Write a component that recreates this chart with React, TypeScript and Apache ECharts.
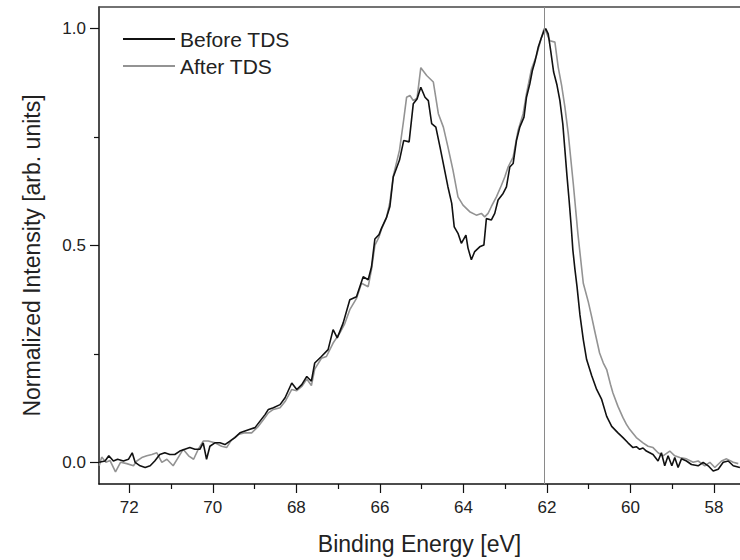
import React, { useEffect, useRef } from "react";
import * as echarts from "echarts";

// Binding energy [eV], normalized intensity [arb. units]
const beforeTDS: [number, number][] = [
  [72.72, 0.0], [72.58, 0.003], [72.49, 0.015], [72.38, 0.003], [72.28, 0.007], [72.14, 0.003],
  [72.02, 0.007], [71.93, 0.022], [71.86, 0.0], [71.74, -0.008], [71.62, -0.012], [71.5, -0.008],
  [71.39, 0.003], [71.27, 0.018], [71.15, 0.022], [71.03, 0.018], [70.91, 0.018], [70.79, 0.026],
  [70.67, 0.03], [70.55, 0.034], [70.43, 0.03], [70.31, 0.03], [70.23, 0.045], [70.15, 0.007],
  [70.07, 0.037], [69.95, 0.045], [69.83, 0.045], [69.71, 0.041], [69.59, 0.049], [69.47, 0.057],
  [69.35, 0.068], [69.23, 0.072], [69.11, 0.076], [68.99, 0.08], [68.87, 0.095], [68.75, 0.11],
  [68.67, 0.122], [68.55, 0.126], [68.39, 0.133], [68.27, 0.149], [68.11, 0.183], [67.99, 0.168],
  [67.87, 0.179], [67.75, 0.198], [67.64, 0.187], [67.56, 0.229], [67.4, 0.244], [67.24, 0.26],
  [67.12, 0.306], [67.02, 0.287], [66.88, 0.321], [66.72, 0.375], [66.56, 0.382], [66.4, 0.428],
  [66.28, 0.421], [66.2, 0.451], [66.12, 0.515], [66.02, 0.525], [65.96, 0.54], [65.84, 0.565],
  [65.76, 0.59], [65.68, 0.658], [65.53, 0.697], [65.43, 0.742], [65.3, 0.739], [65.2, 0.827],
  [65.11, 0.838], [65.02, 0.865], [64.92, 0.842], [64.84, 0.834], [64.76, 0.781], [64.66, 0.773],
  [64.56, 0.727], [64.45, 0.674], [64.37, 0.635], [64.28, 0.597], [64.22, 0.543], [64.13, 0.528],
  [64.05, 0.505], [63.94, 0.524], [63.89, 0.494], [63.81, 0.467], [63.73, 0.486], [63.61, 0.497],
  [63.51, 0.501], [63.45, 0.562], [63.33, 0.559], [63.25, 0.574], [63.17, 0.605], [63.05, 0.62],
  [62.97, 0.635], [62.89, 0.681], [62.81, 0.689], [62.73, 0.742], [62.65, 0.773], [62.55, 0.796],
  [62.49, 0.842], [62.41, 0.873], [62.35, 0.903], [62.29, 0.923], [62.21, 0.957], [62.13, 0.98],
  [62.07, 0.995], [62.03, 1.0], [61.97, 0.988], [61.91, 0.949], [61.84, 0.9], [61.76, 0.87],
  [61.69, 0.834], [61.62, 0.78], [61.57, 0.72], [61.52, 0.66], [61.47, 0.605], [61.42, 0.545],
  [61.38, 0.49], [61.33, 0.445], [61.28, 0.405], [61.21, 0.34], [61.13, 0.283], [61.05, 0.237],
  [60.93, 0.2], [60.81, 0.168], [60.69, 0.145], [60.57, 0.106], [60.45, 0.083], [60.3, 0.068],
  [60.18, 0.057], [60.06, 0.045], [59.94, 0.034], [59.86, 0.036], [59.78, 0.03], [59.7, 0.033],
  [59.62, 0.026], [59.54, 0.022], [59.46, 0.018], [59.34, 0.003], [59.26, 0.022], [59.18, -0.008],
  [59.1, 0.015], [59.01, -0.008], [58.94, 0.011], [58.86, -0.012], [58.78, 0.008], [58.66, 0.003],
  [58.54, -0.005], [58.38, -0.008], [58.26, 0.0], [58.14, -0.008], [58.02, -0.02], [57.9, -0.016],
  [57.78, 0.0], [57.66, 0.003], [57.54, -0.008], [57.38, -0.012],
];

const afterTDS: [number, number][] = [
  [72.72, -0.008], [72.66, 0.012], [72.56, 0.0], [72.46, 0.004], [72.33, -0.022], [72.21, 0.0],
  [72.06, -0.003], [71.9, -0.008], [71.82, 0.003], [71.7, 0.011], [71.58, 0.015], [71.46, 0.018],
  [71.34, 0.022], [71.22, 0.0], [71.1, 0.007], [70.95, -0.008], [70.83, 0.011], [70.71, 0.03],
  [70.58, 0.015], [70.46, 0.007], [70.35, 0.03], [70.23, 0.049], [70.11, 0.049], [69.95, 0.045],
  [69.79, 0.037], [69.67, 0.034], [69.55, 0.052], [69.39, 0.064], [69.23, 0.068], [69.07, 0.068],
  [68.91, 0.083], [68.79, 0.098], [68.67, 0.114], [68.55, 0.122], [68.39, 0.126], [68.27, 0.14],
  [68.11, 0.168], [67.99, 0.165], [67.87, 0.175], [67.75, 0.192], [67.64, 0.177], [67.56, 0.215],
  [67.4, 0.24], [67.28, 0.244], [67.12, 0.275], [66.96, 0.298], [66.84, 0.32], [66.72, 0.352],
  [66.56, 0.378], [66.44, 0.413], [66.28, 0.405], [66.2, 0.445], [66.12, 0.5], [66.02, 0.52],
  [65.96, 0.538], [65.84, 0.565], [65.76, 0.6], [65.68, 0.66], [65.53, 0.72], [65.43, 0.79],
  [65.36, 0.842], [65.28, 0.846], [65.2, 0.834], [65.11, 0.84], [65.02, 0.91], [64.88, 0.892],
  [64.72, 0.877], [64.6, 0.804], [64.48, 0.773], [64.37, 0.727], [64.25, 0.674], [64.13, 0.612],
  [64.01, 0.593], [63.85, 0.578], [63.69, 0.57], [63.57, 0.574], [63.49, 0.566], [63.41, 0.574],
  [63.33, 0.59], [63.21, 0.612], [63.09, 0.639], [63.01, 0.658], [62.93, 0.681], [62.81, 0.704],
  [62.69, 0.766], [62.57, 0.804], [62.49, 0.85], [62.37, 0.907], [62.25, 0.938], [62.13, 0.98],
  [62.07, 1.0], [62.03, 0.995], [61.93, 0.972], [61.81, 0.969], [61.73, 0.911], [61.65, 0.87],
  [61.57, 0.819], [61.49, 0.758], [61.37, 0.643], [61.26, 0.528], [61.13, 0.413], [61.01, 0.37],
  [60.93, 0.336], [60.85, 0.3], [60.74, 0.252], [60.65, 0.229], [60.57, 0.214], [60.48, 0.18],
  [60.42, 0.16], [60.3, 0.129], [60.18, 0.103], [60.1, 0.088], [60.02, 0.076], [59.86, 0.057],
  [59.7, 0.045], [59.58, 0.037], [59.46, 0.034], [59.34, 0.022], [59.22, 0.015], [59.06, 0.026],
  [58.94, 0.015], [58.82, 0.011], [58.66, 0.008], [58.5, 0.0], [58.38, 0.003], [58.22, -0.008],
  [58.1, 0.0], [57.98, -0.012], [57.82, 0.003], [57.7, 0.008], [57.54, 0.0], [57.42, -0.003],
];

const seriesNames = ["Before TDS", "After TDS"];
const xMajorTicks = [58, 60, 62, 64, 66, 68, 70, 72];
const xMinorTicks = [59, 61, 63, 65, 67, 69, 71];
const yMajorTicks = [0, 0.5, 1.0];
const yMinorTicks = [0.25, 0.75];
const peakMarker = 62.07;
const X_MIN = 57.378;
const X_MAX = 72.725;
const Y_MIN = -0.05;
const Y_MAX = 1.05;

const FONT = '"Liberation Sans", Arial, Helvetica, sans-serif';

export default function App() {
  const ref = useRef<HTMLDivElement>(null);

  useEffect(() => {
    if (!ref.current) return;
    const chart = echarts.init(ref.current, undefined, { renderer: "svg" });
    const baseX = {
      type: "value" as const,
      inverse: true,
      min: X_MIN,
      max: X_MAX,
      splitLine: { show: false },
    };
    const baseY = {
      type: "value" as const,
      min: Y_MIN,
      max: Y_MAX,
      splitLine: { show: false },
    };
    chart.setOption({
      animation: false,
      backgroundColor: "#ffffff",
      textStyle: { fontFamily: FONT },
      grid: { left: 99, right: 0, top: 7, bottom: 75, containLabel: false },
      legend: {
        show: true,
        data: seriesNames,
        orient: "vertical",
        left: 123,
        top: 28,
        padding: 0,
        icon: "rect",
        itemWidth: 52,
        itemHeight: 2,
        itemGap: 5,
        textStyle: { fontSize: 21, color: "#222", fontFamily: FONT, lineHeight: 22 },
      },
      xAxis: [
        {
          ...baseX,
          position: "bottom",
          axisLine: { onZero: false, lineStyle: { color: "#111", width: 1.5 } },
          axisTick: { customValues: xMajorTicks, length: 9, lineStyle: { color: "#111", width: 1.2 } },
          axisLabel: {
            customValues: xMajorTicks,
            fontSize: 17,
            color: "#222",
            margin: 15,
            fontFamily: FONT,
          },
          name: "Binding Energy [eV]",
          nameLocation: "middle",
          nameGap: 48,
          nameTextStyle: { fontSize: 23, color: "#222", fontFamily: FONT },
        },
        {
          ...baseX,
          position: "bottom",
          axisLine: { show: false, onZero: false },
          axisTick: { show: true, customValues: xMinorTicks, length: 5, lineStyle: { color: "#111", width: 1.2 } },
          axisLabel: { show: false },
        },
        {
          ...baseX,
          position: "top",
          axisLine: { onZero: false, lineStyle: { color: "#444", width: 1.5 } },
          axisTick: { show: false },
          axisLabel: { show: false },
        },
      ],
      yAxis: [
        {
          ...baseY,
          position: "left",
          axisLine: { onZero: false, lineStyle: { color: "#111", width: 1.5 } },
          axisTick: { customValues: yMajorTicks, length: 9, lineStyle: { color: "#111", width: 1.2 } },
          axisLabel: {
            customValues: yMajorTicks,
            fontSize: 17,
            color: "#222",
            margin: 13,
            fontFamily: FONT,
            formatter: (v: number) => v.toFixed(1),
          },
          name: "Normalized Intensity [arb. units]",
          nameLocation: "middle",
          nameGap: 56,
          nameTextStyle: { fontSize: 23, color: "#222", fontFamily: FONT, padding: [0, 20, 0, 0] },
        },
        {
          ...baseY,
          position: "left",
          axisLine: { show: false, onZero: false },
          axisTick: { customValues: yMinorTicks, length: 5, lineStyle: { color: "#111", width: 1.2 } },
          axisLabel: { show: false },
        },
      ],
      series: [
        {
          name: seriesNames[0],
          type: "line",
          xAxisIndex: 0,
          yAxisIndex: 0,
          data: beforeTDS,
          symbol: "none",
          z: 3,
          lineStyle: { color: "#111", width: 1.6 },
          itemStyle: { color: "#111" },
          markLine: {
            silent: true,
            symbol: ["none", "none"],
            label: { show: false },
            lineStyle: { color: "#8a8a8a", width: 1, type: "solid" },
            data: [{ xAxis: peakMarker }],
          },
        },
        {
          name: seriesNames[1],
          type: "line",
          xAxisIndex: 0,
          yAxisIndex: 0,
          data: afterTDS,
          symbol: "none",
          z: 2,
          lineStyle: { color: "#939393", width: 1.6 },
          itemStyle: { color: "#939393" },
        },
      ],
    });
    return () => chart.dispose();
  }, []);

  return (
    <div
      ref={ref}
      style={{ position: "fixed", left: 0, top: 0, width: 740, height: 560, background: "#fff" }}
    />
  );
}
